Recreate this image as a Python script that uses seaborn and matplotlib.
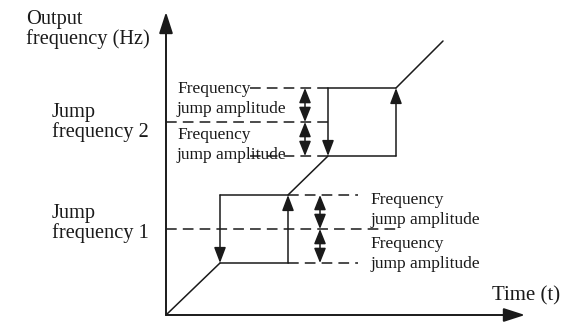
import numpy as np
import pandas as pd
import matplotlib
matplotlib.use('Agg')
import matplotlib.pyplot as plt
import seaborn as sns

# ==========================================
# 1. DATOS DEL ESQUEMA (unidades ~ px desde el origen)
# ==========================================
jump_freq = [86, 193]          # Jump frequency 1, Jump frequency 2
jump_amp = [34, 34]            # Frequency jump amplitude
loop_left_t = [54, 162]        # tiempo de bajada (flecha hacia abajo)
loop_right_t = [122, 230]      # tiempo de subida (flecha hacia arriba)
end_t, end_f = 277, 274        # final de la rampa

axis_t_max = 359
axis_f_max = 303

small_label = "Frequency\njump amplitude"
big_labels = ["Jump\nfrequency 1", "Jump\nfrequency 2"]

sns.set_theme(style="white")
plt.rcParams['font.family'] = ['Liberation Serif', 'DejaVu Serif']

# ==========================================
# 2. SEGMENTOS (rampas + lados horizontales)
# ==========================================
f_low = [f - a for f, a in zip(jump_freq, jump_amp)]
f_high = [f + a for f, a in zip(jump_freq, jump_amp)]

segs = []
segs.append([(0, 0), (loop_left_t[0], f_low[0])])
segs.append([(loop_right_t[0], f_high[0]), (loop_left_t[1], f_low[1])])
segs.append([(loop_right_t[1], f_high[1]), (end_t, end_f)])
for i in range(2):
    segs.append([(loop_left_t[i], f_low[i]), (loop_right_t[i], f_low[i])])
    segs.append([(loop_left_t[i], f_high[i]), (loop_right_t[i], f_high[i])])

rows = []
for k, s in enumerate(segs):
    for (t, f) in s:
        rows.append({'seg': k, 't': t, 'f': f})
df = pd.DataFrame(rows)

fig = plt.figure(figsize=(5.71, 3.24), dpi=100)
ax = fig.add_axes([0, 0, 1, 1])
ax.set_xlim(-166, 405)
ax.set_ylim(-9, 315)
ax.axis('off')

LC = '#1a1a1a'
sns.lineplot(data=df, x='t', y='f', units='seg', estimator=None, sort=False,
             color=LC, lw=1.1, ax=ax, legend=False)

# ejes con flecha
axis_props = dict(arrowstyle='-|>,head_length=1.3,head_width=0.42', color=LC, lw=1.4,
                  shrinkA=0, shrinkB=0, mutation_scale=10)
ax.annotate('', xy=(0, axis_f_max), xytext=(0, 0), arrowprops=axis_props)
ax.annotate('', xy=(axis_t_max, 0), xytext=(0, 0), arrowprops=axis_props)

# lados verticales con flecha
v_props = dict(arrowstyle='-|>,head_length=0.95,head_width=0.36', color=LC, lw=1.1,
               shrinkA=0, shrinkB=0, mutation_scale=10)
for i in range(2):
    ax.annotate('', xy=(loop_left_t[i], f_low[i]), xytext=(loop_left_t[i], f_high[i]), arrowprops=v_props)
    ax.annotate('', xy=(loop_right_t[i], f_high[i]), xytext=(loop_right_t[i], f_low[i]), arrowprops=v_props)

# lineas discontinuas
dash = dict(color=LC, lw=1.1, linestyles=(0, (7, 4)))
ax.hlines(jump_freq[0], 0, 234, **dash)
ax.hlines([f_low[0], f_high[0]], loop_right_t[0], 192, **dash)
ax.hlines(jump_freq[1], 0, loop_left_t[1], **dash)
ax.hlines([f_low[1], f_high[1]], 84, loop_left_t[1], **dash)

# flechas dobles (amplitud)
d_props = dict(arrowstyle='<|-|>,head_length=0.9,head_width=0.36', color=LC, lw=1.1,
               shrinkA=0, shrinkB=0, mutation_scale=10)
amp_x = [154, 139]
for i in range(2):
    ax.annotate('', xy=(amp_x[i], f_high[i]), xytext=(amp_x[i], jump_freq[i]), arrowprops=d_props)
    ax.annotate('', xy=(amp_x[i], f_low[i]), xytext=(amp_x[i], jump_freq[i]), arrowprops=d_props)

# ==========================================
# 3. TEXTOS
# ==========================================
big = dict(fontsize=14.7, color=LC, ha='left', va='top', linespacing=1.0)
sm = dict(fontsize=12.5, color=LC, ha='left', va='top', linespacing=1.3)

ax.text(-140, 305, "Output\nfrequency (Hz)", **big)
ax.text(-114, 212, big_labels[1], **big)
ax.text(-114, 111, big_labels[0], **big)
ax.text(11, 234, small_label, **sm)
ax.text(11, 188, small_label, **sm)
ax.text(204, 123, small_label, **sm)
ax.text(204, 79, small_label, **sm)
ax.text(326, 29, "Time (t)", fontsize=15, color=LC, ha='left', va='top')

fig.savefig('out.png', dpi=100)
